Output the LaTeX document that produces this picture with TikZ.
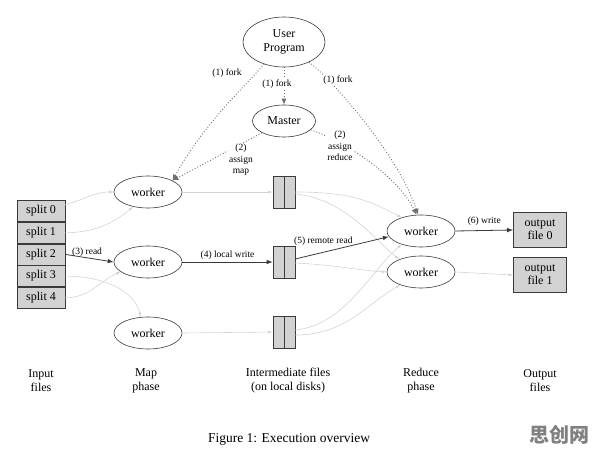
\documentclass[tikz,border=0pt]{standalone}
\usepackage{fontspec}
\setmainfont{Liberation Serif}
\newfontfamily\cjk{Noto Sans CJK SC}
\usetikzlibrary{arrows.meta}
\usetikzlibrary{shapes.geometric}
\usetikzlibrary{positioning}

\definecolor{boxfill}{HTML}{D2D2D2}
\definecolor{inkline}{HTML}{3A3A3A}
\definecolor{faintline}{HTML}{D4D4D4}
\definecolor{dotline}{HTML}{6E6E6E}

\tikzset{
  proc/.style={ellipse, draw=inkline, line width=0.6pt, inner sep=0pt,
    minimum width=68pt, minimum height=32pt, font=\fontsize{12}{14}\selectfont},
  splitbox/.style={rectangle, draw=inkline, fill=boxfill, line width=0.6pt,
    minimum width=48pt, minimum height=21.1pt, inner sep=0pt,
    font=\fontsize{12}{14}\selectfont},
  interfile/.style={rectangle, draw=inkline, fill=boxfill, line width=0.6pt,
    minimum width=22pt, minimum height=32pt, inner sep=0pt},
  outfile/.style={rectangle, draw=inkline, fill=boxfill, line width=0.6pt,
    align=center, minimum width=53pt, minimum height=35pt, inner sep=0pt,
    font=\fontsize{12}{13}\selectfont},
  steplabel/.style={font=\fontsize{9.5}{11.5}\selectfont, align=center,
    inner sep=1pt},
  phaselabel/.style={font=\fontsize{12}{14}\selectfont, align=center},
  active/.style={draw=inkline, line width=0.8pt, -{Latex[length=6pt,width=4.5pt]}},
  idle/.style={draw=faintline, line width=0.6pt, -{Latex[length=4.5pt,width=3pt]}},
  control/.style={draw=dotline, line width=0.9pt, dotted,
    -{Latex[length=6pt,width=5pt]}},
}

\begin{document}
\begin{tikzpicture}[x=1pt, y=-1pt]
  \useasboundingbox (0,0) rectangle (596,454);
  % user program and master
  \node[proc, minimum width=82pt, minimum height=50pt, align=center] (user)
    at (284,42) {User\\Program};
  \node[proc, minimum width=63pt] (master) at (284,121) {Master};
  % input splits, stacked
  \node[splitbox] (split0) at (41,211) {split 0};
  \node[splitbox, below=0pt of split0] (split1) {split 1};
  \node[splitbox, below=0pt of split1] (split2) {split 2};
  \node[splitbox, below=0pt of split2] (split3) {split 3};
  \node[splitbox, below=0pt of split3] (split4) {split 4};
  % map workers
  \node[proc] (map1) at (148,192) {worker};
  \node[proc] (map2) at (148,262) {worker};
  \node[proc] (map3) at (148,333) {worker};
  % intermediate files, two partitions each
  \node[interfile] (mid1) at (284,192) {};
  \node[interfile] (mid2) at (284,262) {};
  \node[interfile] (mid3) at (284,332) {};
  \foreach \m in {mid1,mid2,mid3}
    \draw[draw=inkline, line width=0.6pt] (\m.north) -- (\m.south);
  % reduce workers
  \node[proc] (red1) at (421,231) {worker};
  \node[proc] (red2) at (421,272) {worker};
  % output files
  \node[outfile] (out0) at (540,230) {output\\file 0};
  \node[outfile] (out1) at (540,275) {output\\file 1};

  % (1) fork and (2) assign, dotted control lines
  \draw[control] (user) -- (master);
  \draw[control] (user) .. controls +(-40,45) and +(30,-55) .. (map1.25);
  \draw[control] (user) .. controls +(50,40) and +(-20,-60) .. (red1.100);
  \draw[control] (master) -- (map1.25);
  \draw[control] (master) .. controls +(60,20) and +(-20,-40) .. (red1.105);
  \node[steplabel, fill=white] (fork1) at (227,73) {(1) fork};
  \node[steplabel, fill=white] (fork2) at (277,84) {(1) fork};
  \node[steplabel, fill=white] (fork3) at (338,80) {(1) fork};
  \node[steplabel, fill=white] (assignmap) at (241,160) {(2)\\assign\\map};
  \node[steplabel, fill=white] (assignred) at (340,146) {(2)\\assign\\reduce};

  % splits into map workers
  \draw[idle] (split0.15) .. controls +(20,-5) and +(-20,0) .. (map1.west);
  \draw[idle] (split1.east) .. controls +(35,0) and +(-15,12) .. (map1.225);
  \draw[active] (split2.east) -- node[steplabel, above=0pt, pos=0.45] (read)
    {(3) read} (map2.west);
  \draw[idle] (split3.east) .. controls +(40,0) and +(-5,-25) .. (map3.115);
  \draw[idle] (split4.east) .. controls +(25,0) and +(-20,8) .. (map2.200);

  % map workers into local files
  \draw[idle] (map1.east) -- (mid1.west);
  \draw[active] (map2.east) -- node[steplabel, above=1pt] (lwrite)
    {(4) local write} (mid2.west);
  \draw[idle] (map3.east) -- (mid3.west);

  % local files into reduce workers
  \draw[idle] (mid1.east) .. controls +(60,0) and +(-30,-15) .. (red1.145);
  \draw[idle] (mid1.-10) .. controls +(50,5) and +(-25,-20) .. (red2.150);
  \draw[active] (mid2.15) -- node[steplabel, above=5pt, pos=0.3] (rread)
    {(5) remote read} (red1.190);
  \draw[idle] (mid2.-5) .. controls +(40,2) and +(-30,-2) .. (red2.west);
  \draw[idle] (mid3.10) .. controls +(50,-5) and +(-30,25) .. (red1.215);
  \draw[idle] (mid3.-15) .. controls +(50,0) and +(-35,20) .. (red2.212);

  % reduce workers into output files
  \draw[active] (red1.east) -- node[steplabel, above=4pt] (write)
    {(6) write} (out0.west);
  \draw[idle] (red2.east) -- (out1.west);

  % phase captions
  \node[phaselabel] (capin) at (41,381) {Input\\files};
  \node[phaselabel] (capmap) at (146,381) {Map\\phase};
  \node[phaselabel] (capmid) at (288,381) {Intermediate files\\(on local disks)};
  \node[phaselabel] (capred) at (421,381) {Reduce\\phase};
  \node[phaselabel] (capout) at (540,381) {Output\\files};
  \node[font=\fontsize{13.5}{15}\selectfont] (figcap) at (289,439)
    {Figure 1: Execution overview};
  \node[text=black!50, font=\cjk\bfseries\fontsize{20}{22}\selectfont] (mark)
    at (559,435) {思创网};
\end{tikzpicture}
\end{document}
